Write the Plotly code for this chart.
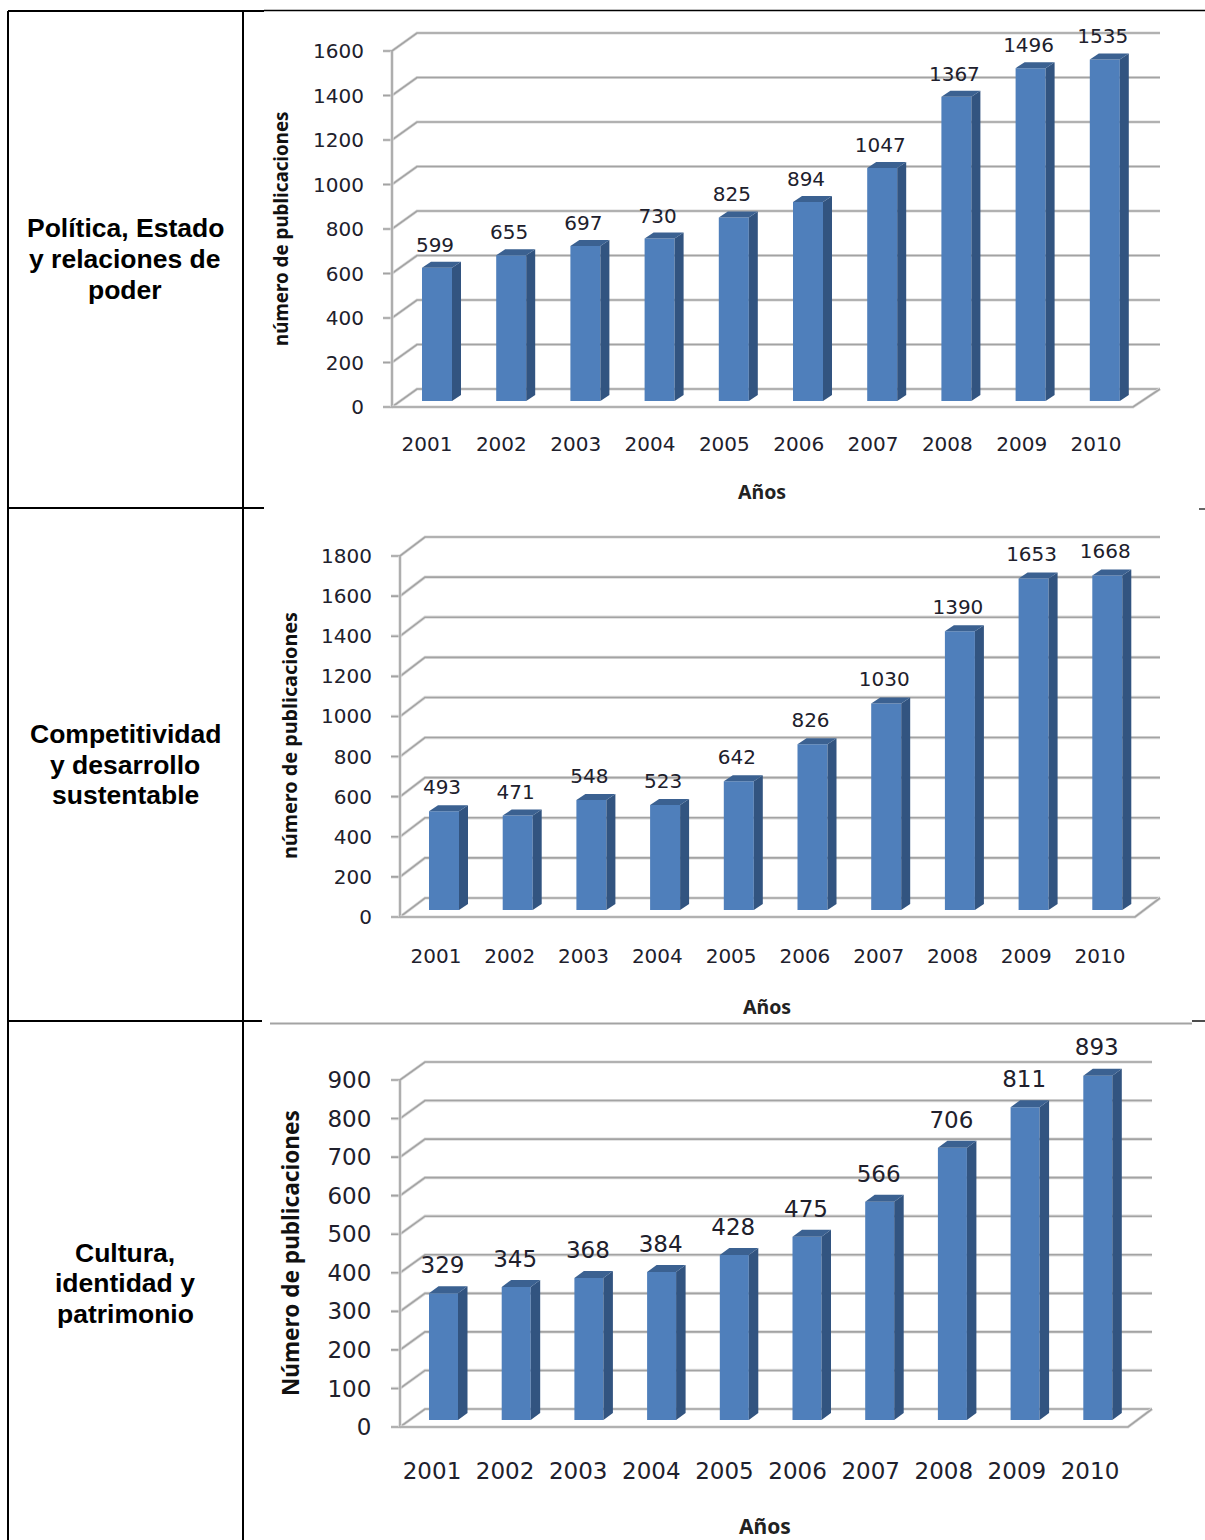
import plotly.graph_objects as go

W, H = 1205, 1540

years = ["2001", "2002", "2003", "2004", "2005", "2006", "2007", "2008", "2009", "2010"]
values_politica = [599, 655, 697, 730, 825, 894, 1047, 1367, 1496, 1535]
values_competitividad = [493, 471, 548, 523, 642, 826, 1030, 1390, 1653, 1668]
values_cultura = [329, 345, 368, 384, 428, 475, 566, 706, 811, 893]
ticks_politica = [0, 200, 400, 600, 800, 1000, 1200, 1400, 1600]
ticks_competitividad = [0, 200, 400, 600, 800, 1000, 1200, 1400, 1600, 1800]
ticks_cultura = [0, 100, 200, 300, 400, 500, 600, 700, 800, 900]

FRONT = "#4f7fbb"
SIDE = "#325480"
TOP = "#3b6191"
GRID = "#a3a3a3"
HALO = "#dcdcdc"
TEXT = "#20202c"

charts = [
    dict(values=values_politica, ticks=ticks_politica, x_front=392, x_back=417, x_right=1160, x_floor=1133,
         y_zero=407, y_max=51, y_back_top=33, y_base=401, bar_left=422, bar_w=30, step=74.2, dx=9, dy=6,
         year_first=427, year_last=1096, font=20, ylab_len=13, xlab_len=16, lab_up=21, lab_off=-2,
         ytitle="número de publicaciones", ytitle_x=281, ytitle_y=229, ytitle_size=18.8,
         xtitle_x=762, xtitle_y=491, xtitle_size=19.5),
    dict(values=values_competitividad, ticks=ticks_competitividad, x_front=400, x_back=425, x_right=1160, x_floor=1135,
         y_zero=917, y_max=556, y_back_top=537, y_base=910, bar_left=429, bar_w=30, step=73.7, dx=9, dy=6,
         year_first=436, year_last=1100, font=20, ylab_len=13, xlab_len=18, lab_up=22, lab_off=-2,
         ytitle="número de publicaciones", ytitle_x=290, ytitle_y=736, ytitle_size=19.8,
         xtitle_x=767, xtitle_y=1006, xtitle_size=19.5),
    dict(values=values_cultura, ticks=ticks_cultura, x_front=400, x_back=425, x_right=1152, x_floor=1128,
         y_zero=1427, y_max=1080, y_back_top=1062, y_base=1420, bar_left=429, bar_w=29, step=72.7, dx=9.5, dy=7,
         year_first=432, year_last=1090, font=23, ylab_len=13, xlab_len=20, lab_up=26, lab_off=-1,
         ytitle="Número de publicaciones", ytitle_x=290, ytitle_y=1253, ytitle_size=22.6,
         xtitle_x=765, xtitle_y=1525.5, xtitle_size=21),
]

row_labels = [
    (["Política, Estado", "y relaciones de", "poder"], [228, 259, 290]),
    (["Competitividad", "y desarrollo", "sustentable"], [734, 765, 795]),
    (["Cultura,", "identidad y", "patrimonio"], [1253, 1283, 1314]),
]

fig = go.Figure()
shapes, annotations, layout_axes = [], [], {}


def px_x(p):
    return p / W


def px_y(p):
    return 1 - p / H


def line(xr, yr, xs, ys, width=1.6):
    path = "M " + " L ".join(f"{a},{b}" for a, b in zip(xs, ys))
    for col, w in ((HALO, width + 1.6), (GRID, width)):
        shapes.append(dict(type="path", path=path, xref=xr, yref=yr, layer="below",
                           line=dict(color=col, width=w)))


for n, c in enumerate(charts, start=1):
    xa, ya = ("x", "y") if n == 1 else (f"x{n}", f"y{n}")
    xk, yk = ("xaxis", "yaxis") if n == 1 else (f"xaxis{n}", f"yaxis{n}")
    idx = list(range(len(years)))

    vscale = (c["y_zero"] - c["y_max"]) / c["ticks"][-1]
    center0 = c["bar_left"] + c["bar_w"] / 2
    to_u = lambda p, c0=center0, s=c["step"]: (p - c0) / s
    to_v = lambda p, y0=c["y_zero"], k=vscale: (y0 - p) / k

    dom_l, dom_r = c["x_front"] - 10, c["x_right"] + 3
    dom_t, dom_b = c["y_back_top"] - 25, c["y_zero"] + 3
    base = to_v(c["y_base"])
    half = c["bar_w"] / 2 / c["step"]
    du = c["dx"] / c["step"]
    dv = c["dy"] / vscale
    back_dv = (c["y_max"] - c["y_back_top"]) / vscale

    # walls, gridlines and floor
    x_f, x_b, x_r, x_t = to_u(c["x_front"]), to_u(c["x_back"]), to_u(c["x_right"]), to_u(c["x_front"] - 9)
    for v in c["ticks"]:
        line(xa, ya, [x_t, x_f, x_b, x_r], [v, v, v + back_dv, v + back_dv])
    line(xa, ya, [x_f, x_f], [0, c["ticks"][-1]])
    line(xa, ya, [x_f, to_u(c["x_floor"]), x_r], [0, 0, back_dv])

    # bars: front faces
    fig.add_trace(go.Bar(x=idx, y=c["values"], base=[base] * len(idx), width=2 * half, marker_color=FRONT,
                         marker_line_width=0, xaxis=xa, yaxis=ya, showlegend=False, hoverinfo="skip"))

    # bars: side and top faces, derived from the same values
    sx, sy, tx, ty = [], [], [], []
    for i, val in zip(idx, c["values"]):
        top = base + val
        sx += [i + half, i + half + du, i + half + du, i + half, i + half, None]
        sy += [base, base + dv, top + dv, top, base, None]
        tx += [i - half, i - half + du, i + half + du, i + half, i - half, None]
        ty += [top, top + dv, top + dv, top, top, None]
    for xs, ys, col in ((sx, sy, SIDE), (tx, ty, TOP)):
        fig.add_trace(go.Scatter(x=xs, y=ys, mode="lines", fill="toself", fillcolor=col, line=dict(width=0),
                                 xaxis=xa, yaxis=ya, showlegend=False, hoverinfo="skip"))

    # value labels
    fig.add_trace(go.Scatter(
        x=[i + c["lab_off"] / c["step"] for i in idx],
        y=[base + v + c["lab_up"] / vscale for v in c["values"]],
        text=[str(v) for v in c["values"]], mode="text", textposition="middle center",
        textfont=dict(family="DejaVu Sans", size=c["font"], color=TEXT), cliponaxis=False,
        xaxis=xa, yaxis=ya, showlegend=False, hoverinfo="skip"))

    year_step = (c["year_last"] - c["year_first"]) / (len(years) - 1)
    layout_axes[xk] = dict(domain=[px_x(dom_l), px_x(dom_r)], range=[to_u(dom_l), to_u(dom_r)], anchor=ya,
                           tickmode="array", tickvals=[to_u(c["year_first"] + i * year_step) for i in idx],
                           ticktext=years, tickfont=dict(family="DejaVu Sans", size=c["font"], color=TEXT),
                           ticks="outside", ticklen=c["xlab_len"], tickcolor="rgba(0,0,0,0)", tickangle=0,
                           showgrid=False, zeroline=False, showline=False, automargin=False)
    layout_axes[yk] = dict(domain=[px_y(dom_b), px_y(dom_t)], range=[to_v(dom_b), to_v(dom_t)], anchor=xa,
                           tickmode="array", tickvals=c["ticks"], ticktext=[str(t) for t in c["ticks"]],
                           tickfont=dict(family="DejaVu Sans", size=c["font"], color=TEXT),
                           ticks="outside", ticklen=c["ylab_len"], tickcolor="rgba(0,0,0,0)",
                           showgrid=False, zeroline=False, showline=False, automargin=False)

    annotations.append(dict(text=f"<b>{c['ytitle']}</b>", xref="paper", yref="paper", x=px_x(c["ytitle_x"]),
                            y=px_y(c["ytitle_y"]), textangle=-90, showarrow=False, xanchor="center", yanchor="middle",
                            font=dict(family="Noto Sans", size=c["ytitle_size"], color="#111111")))
    annotations.append(dict(text="<b>Años</b>", xref="paper", yref="paper", x=px_x(c["xtitle_x"]),
                            y=px_y(c["xtitle_y"]), showarrow=False, xanchor="center", yanchor="middle",
                            font=dict(family="Noto Sans", size=c["xtitle_size"], color="#222222")))

# left column labels
for lines, ys in row_labels:
    for t, y in zip(lines, ys):
        annotations.append(dict(text=f"<b>{t}</b>", xref="paper", yref="paper", x=px_x(125), y=px_y(y),
                                showarrow=False, xanchor="center", yanchor="middle",
                                font=dict(family="Liberation Sans", size=26.5, color="#000000")))


def rule(x0, y0, x1, y1, color="#000000", width=2):
    shapes.append(dict(type="line", xref="paper", yref="paper", x0=px_x(x0), y0=px_y(y0), x1=px_x(x1), y1=px_y(y1),
                       line=dict(color=color, width=width), layer="above"))


# table frame
rule(8, 11, 8, H)
rule(243, 11, 243, H)
rule(8, 11, 264, 11)
rule(264, 10.5, W, 10.5, width=1.4)
rule(8, 508, 264, 508)
rule(1199, 509, W, 509, width=1.2)
rule(8, 1021, 262, 1021)
rule(270, 1023.5, 1192, 1023.5, color=GRID, width=2)
rule(1192, 1021, W, 1021, width=1.4)

fig.update_layout(width=W, height=H, margin=dict(l=0, r=0, t=0, b=0, pad=0), paper_bgcolor="white",
                  plot_bgcolor="rgba(0,0,0,0)", shapes=shapes, annotations=annotations, barmode="overlay",
                  showlegend=False, **layout_axes)

fig.write_html("out.html", config=dict(displayModeBar=False), post_script="document.body.style.margin='0';")
